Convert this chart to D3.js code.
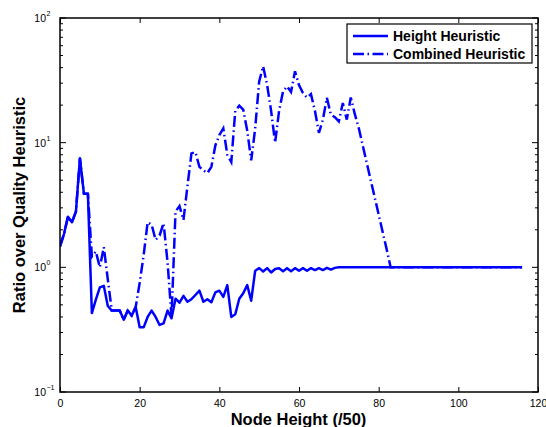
<!DOCTYPE html>
<html>
<head>
<meta charset="utf-8">
<script src="https://cdn.jsdelivr.net/npm/d3@7"></script>
<style>
  body { margin: 0; background: #fff; }
  text { font-family: "Liberation Sans", Arial, sans-serif; }
</style>
</head>
<body>
<div id="chart"></div>
<script>
// node height (/50), one point per step
var nodeHeight = d3.range(0, 117);

var heightHeuristic = [
  1.47, 1.85, 2.55, 2.3, 2.8, 7.5, 3.9, 3.9, 0.43, 0.55,
  0.69, 0.71, 0.49, 0.45, 0.45, 0.45, 0.38, 0.45, 0.41, 0.48,
  0.33, 0.33, 0.4, 0.45, 0.4, 0.345, 0.355, 0.45, 0.39, 0.56,
  0.52, 0.59, 0.53, 0.555, 0.6, 0.65, 0.53, 0.555, 0.525, 0.63,
  0.65, 0.58, 0.72, 0.4, 0.42, 0.56, 0.62, 0.72, 0.54, 0.94,
  0.985, 0.925, 0.985, 0.91, 0.97, 0.985, 0.93, 0.985, 0.93, 0.985,
  0.94, 0.985, 0.94, 0.985, 0.95, 0.985, 0.95, 0.99, 0.96, 0.99,
  1, 1, 1, 1, 1, 1, 1, 1, 1, 1,
  1, 1, 1, 1, 1, 1, 1, 1, 1, 1,
  1, 1, 1, 1, 1, 1, 1, 1, 1, 1,
  1, 1, 1, 1, 1, 1, 1, 1, 1, 1,
  1, 1, 1, 1, 1, 1, 1
];

var combinedHeuristic = [
  1.47, 1.85, 2.55, 2.3, 2.8, 7.5, 3.9, 3.9, 1.22, 1.34,
  1.0, 1.45, 0.8, 0.45, 0.45, 0.45, 0.38, 0.45, 0.41, 0.48,
  0.75, 1.25, 2.3, 2.2, 1.66, 1.8, 2.26, 1.1, 0.4, 2.8,
  3.1, 2.4, 4.5, 8.2, 8.4, 6.4, 6.0, 5.7, 6.4, 9.5,
  11.5, 13, 8, 7, 18, 19.8, 18.4, 12.5, 7.2, 13,
  31, 41, 29, 18, 10, 18, 25.8, 28.3, 25.5, 37.4,
  29, 25, 23, 24.5, 18, 12, 15.3, 22.9, 16.8, 16,
  14.8, 20.8, 15.3, 23, 17, 13.1, 9.5, 6.9, 5.0, 3.65,
  2.65, 1.92, 1.4, 1.0, 1, 1, 1, 1, 1, 1,
  1, 1, 1, 1, 1, 1, 1, 1, 1, 1,
  1, 1, 1, 1, 1, 1, 1, 1, 1, 1,
  1, 1, 1, 1, 1, 1, 1
];

var xTicks = [0, 20, 40, 60, 80, 100, 120];
var yDecades = [0.1, 1, 10, 100];
var yExponents = ["\u22121", "0", "1", "2"];
var seriesNames = ["Height Heuristic", "Combined Heuristic"];

var width = 546, height = 427;
var plotL = 60, plotR = 538, plotT = 18, plotB = 392;
var blue = "#0000ff";
var dashDot = "11,3.5,1.5,3.5";

var svg = d3.select("#chart").append("svg")
    .attr("width", width).attr("height", height);

var x = d3.scaleLinear().domain([0, 120]).range([plotL, plotR]);
var y = d3.scaleLog().domain([0.1, 100]).range([plotB, plotT]);

// minor ticks for the log axis
var minorTicks = [];
yDecades.slice(0, 3).forEach(function (d) {
    for (var k = 2; k <= 9; k++) minorTicks.push(d * k);
});

// lines first, frame on top
var clip = svg.append("clipPath").attr("id", "plot-clip")
    .append("rect").attr("x", plotL).attr("y", plotT)
    .attr("width", plotR - plotL).attr("height", plotB - plotT);

var line = d3.line()
    .x(function (d) { return x(d[0]); })
    .y(function (d) { return y(d[1]); });

var plot = svg.append("g").attr("clip-path", "url(#plot-clip)");
plot.append("path")
    .datum(d3.zip(nodeHeight, heightHeuristic))
    .attr("d", line)
    .attr("fill", "none").attr("stroke", blue).attr("stroke-width", 2.5)
    .attr("stroke-linejoin", "round");
plot.append("path")
    .datum(d3.zip(nodeHeight, combinedHeuristic))
    .attr("d", line)
    .attr("fill", "none").attr("stroke", blue).attr("stroke-width", 2.5)
    .attr("stroke-dasharray", dashDot);

// axes (ticks point inward, as in the original)
svg.append("g")
    .attr("transform", "translate(0," + plotB + ")")
    .call(d3.axisBottom(x).tickValues(xTicks).tickSizeInner(-5).tickSizeOuter(0).tickPadding(8))
    .call(function (g) {
        g.select(".domain").remove();
        g.selectAll("text").attr("font-size", "10.5px").attr("fill", "#000")
            .attr("font-family", "'Liberation Sans', Arial, sans-serif");
    });
svg.append("g")
    .attr("transform", "translate(0," + plotT + ")")
    .call(d3.axisTop(x).tickValues(xTicks).tickSizeInner(-5).tickSizeOuter(0).tickFormat(""))
    .call(function (g) { g.select(".domain").remove(); });

[[plotL, 1], [plotR, -1]].forEach(function (side) {
    var g = svg.append("g");
    g.selectAll(".major").data(yDecades).enter().append("line")
        .attr("x1", side[0]).attr("x2", side[0] + side[1] * 6)
        .attr("y1", function (d) { return y(d); })
        .attr("y2", function (d) { return y(d); })
        .attr("stroke", "#000");
    g.selectAll(".minor").data(minorTicks).enter().append("line")
        .attr("x1", side[0]).attr("x2", side[0] + side[1] * 3)
        .attr("y1", function (d) { return y(d); })
        .attr("y2", function (d) { return y(d); })
        .attr("stroke", "#000");
});

// y tick labels: 10 with a raised exponent
var yLab = svg.append("g").selectAll("g").data(yDecades).enter().append("g");
yLab.append("text")
    .attr("x", 46).attr("y", function (d) { return y(d) + 4; })
    .attr("text-anchor", "end").attr("font-size", "10.5px")
    .text("10");
yLab.append("text")
    .attr("x", 46.5).attr("y", function (d) { return y(d) - 2; })
    .attr("font-size", "7px")
    .text(function (d, i) { return yExponents[i]; });

// frame
svg.append("rect")
    .attr("x", plotL).attr("y", plotT)
    .attr("width", plotR - plotL).attr("height", plotB - plotT)
    .attr("fill", "none").attr("stroke", "#000").attr("stroke-width", 1.5);

// legend
var legend = svg.append("g").attr("transform", "translate(347,24)");
legend.append("rect")
    .attr("width", 185).attr("height", 39)
    .attr("fill", "#fff").attr("stroke", "#000").attr("stroke-width", 1.2);
var rows = legend.selectAll(".row").data(seriesNames).enter().append("g")
    .attr("transform", function (d, i) { return "translate(0," + (12 + i * 18) + ")"; });
rows.append("line")
    .attr("x1", 6).attr("x2", 41).attr("y1", 0).attr("y2", 0)
    .attr("stroke", blue).attr("stroke-width", 2.5)
    .attr("stroke-dasharray", function (d, i) { return i === 0 ? null : dashDot; });
rows.append("text")
    .attr("x", 46).attr("y", 5)
    .attr("font-size", "14px").attr("font-weight", "bold")
    .text(function (d) { return d; });

// axis titles
svg.append("text")
    .attr("x", (plotL + plotR) / 2 - 0.5).attr("y", 425)
    .attr("text-anchor", "middle")
    .attr("font-size", "16.5px").attr("font-weight", "bold")
    .text("Node Height (/50)");
svg.append("text")
    .attr("transform", "translate(25," + ((plotT + plotB) / 2) + ") rotate(-90)")
    .attr("text-anchor", "middle")
    .attr("font-size", "16.5px").attr("font-weight", "bold")
    .text("Ratio over Quality Heuristic");
</script>
</body>
</html>
